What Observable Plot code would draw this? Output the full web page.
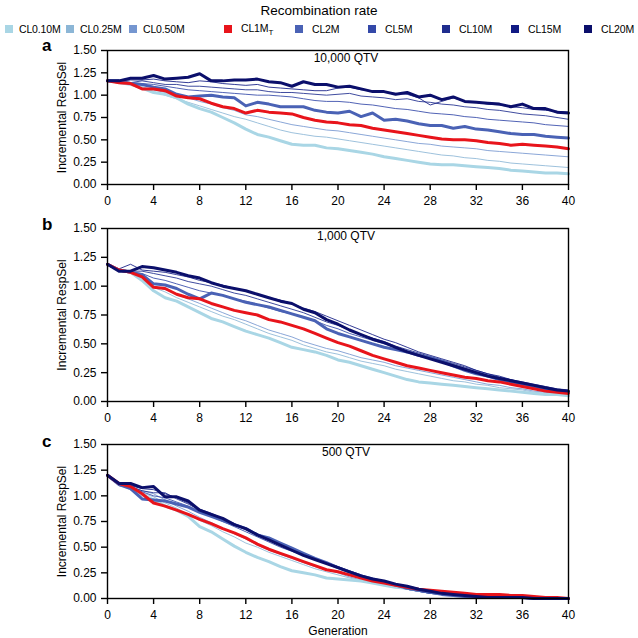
<!DOCTYPE html>
<html><head><meta charset="utf-8">
<script src="https://cdn.jsdelivr.net/npm/d3@7"></script>
<script src="https://cdn.jsdelivr.net/npm/@observablehq/plot@0.6"></script>
<style>
body{margin:0;background:#fff;font-family:"Liberation Sans",Arial,sans-serif;color:#000;}
#root{position:relative;width:638px;height:638px;overflow:hidden;}
.abs{position:absolute;}
.letter{font-weight:bold;font-size:17px;line-height:1;}
.leg{position:absolute;top:22px;height:14px;display:flex;align-items:center;font-size:10.5px;letter-spacing:-0.15px;white-space:nowrap;}
.sw{width:8px;height:8px;}
</style></head><body><div id="root"></div>
<script>
// ---------- data ----------
const generations = d3.range(0, 41);
const seriesNames = ["CL0.10M","CL0.25M","CL0.50M","CL1MT","CL2M","CL5M","CL10M","CL15M","CL20M"];
const seriesColors = ["#a9d6e5","#8cb6d6","#7596d0","#e8141b","#4a62b5","#3348a8","#1f2d8e","#111a84","#0b0f6b"];
const thickSeries = ["CL0.10M","CL2M","CL1MT","CL20M"];
const xTicks = [0,4,8,12,16,20,24,28,32,36,40];
const yTicks = [0,0.25,0.5,0.75,1,1.25,1.5];
const panelNotes = ["10,000 QTV","1,000 QTV","500 QTV"];

// Panel a: 10,000 QTV
const a_CL010 = [1.16,1.15,1.13,1.08,1.03,1.01,0.97,0.90,0.85,0.81,0.75,0.69,0.62,0.56,0.53,0.49,0.45,0.44,0.44,0.41,0.40,0.38,0.36,0.34,0.31,0.29,0.27,0.25,0.23,0.22,0.22,0.21,0.20,0.19,0.18,0.16,0.15,0.14,0.13,0.13,0.12];
const a_CL025 = [1.16,1.13,1.11,1.07,1.04,1.00,0.96,0.92,0.88,0.84,0.80,0.76,0.73,0.69,0.65,0.61,0.58,0.56,0.54,0.53,0.51,0.49,0.47,0.45,0.43,0.41,0.39,0.37,0.35,0.33,0.32,0.30,0.29,0.27,0.26,0.24,0.23,0.22,0.21,0.20,0.19];
const a_CL050 = [1.16,1.14,1.12,1.09,1.06,1.03,1.00,0.97,0.93,0.90,0.86,0.83,0.78,0.76,0.73,0.70,0.67,0.65,0.63,0.61,0.60,0.58,0.56,0.54,0.52,0.50,0.48,0.46,0.45,0.43,0.42,0.41,0.40,0.38,0.37,0.36,0.35,0.34,0.33,0.32,0.31];
const a_CL1MT = [1.16,1.14,1.13,1.07,1.07,1.05,0.99,0.97,0.96,0.91,0.87,0.85,0.80,0.83,0.81,0.80,0.79,0.75,0.72,0.70,0.69,0.67,0.66,0.63,0.61,0.59,0.57,0.55,0.53,0.51,0.50,0.50,0.49,0.47,0.46,0.44,0.45,0.44,0.43,0.42,0.40];
const a_CL2M  = [1.16,1.16,1.13,1.12,1.09,1.07,1.01,0.98,0.99,1.00,0.98,0.97,0.88,0.92,0.90,0.87,0.87,0.87,0.83,0.81,0.80,0.82,0.76,0.80,0.72,0.73,0.71,0.68,0.66,0.66,0.63,0.65,0.62,0.61,0.59,0.57,0.56,0.56,0.54,0.53,0.52];
const a_CL5M  = [1.16,1.15,1.14,1.13,1.12,1.10,1.08,1.06,1.05,1.04,1.03,1.02,1.01,1.00,1.00,0.99,0.98,0.96,0.94,0.93,0.93,0.92,0.90,0.89,0.87,0.85,0.84,0.82,0.80,0.79,0.78,0.76,0.75,0.73,0.72,0.71,0.70,0.69,0.67,0.66,0.65];
const a_CL10M = [1.16,1.15,1.14,1.16,1.14,1.12,1.12,1.10,1.10,1.09,1.08,1.07,1.06,1.06,1.04,1.03,1.03,1.02,1.01,1.00,1.01,1.02,0.99,0.98,0.97,0.95,0.96,0.93,0.92,0.90,0.89,0.87,0.86,0.84,0.83,0.81,0.79,0.78,0.77,0.75,0.73];
const a_CL15M = [1.16,1.16,1.17,1.17,1.18,1.16,1.15,1.14,1.16,1.15,1.13,1.12,1.11,1.12,1.09,1.08,1.07,1.06,1.05,1.05,1.08,1.09,1.06,1.05,1.03,1.02,1.01,0.97,0.89,0.93,0.97,0.93,0.92,0.90,0.89,0.87,0.86,0.84,0.83,0.82,0.81];
const a_CL20M = [1.16,1.16,1.19,1.19,1.22,1.18,1.19,1.20,1.24,1.16,1.16,1.17,1.17,1.18,1.15,1.14,1.10,1.15,1.12,1.12,1.09,1.10,1.07,1.04,1.04,1.01,1.03,0.98,1.00,0.95,0.98,0.93,0.92,0.91,0.90,0.87,0.90,0.85,0.85,0.81,0.80];

// Panel b: 1,000 QTV
const b_CL010 = [1.19,1.14,1.12,1.05,0.96,0.90,0.87,0.82,0.77,0.72,0.69,0.65,0.61,0.58,0.55,0.51,0.47,0.45,0.43,0.40,0.36,0.34,0.31,0.28,0.25,0.22,0.19,0.17,0.16,0.15,0.14,0.13,0.12,0.11,0.10,0.09,0.08,0.07,0.06,0.06,0.05];
const b_CL025 = [1.19,1.14,1.12,1.07,0.99,0.95,0.90,0.86,0.82,0.78,0.74,0.71,0.67,0.63,0.59,0.56,0.53,0.49,0.46,0.43,0.41,0.38,0.35,0.33,0.31,0.28,0.26,0.24,0.22,0.20,0.18,0.17,0.15,0.14,0.12,0.11,0.10,0.08,0.07,0.06,0.05];
const b_CL050 = [1.19,1.15,1.13,1.08,1.00,0.97,0.93,0.89,0.85,0.81,0.77,0.73,0.70,0.66,0.62,0.59,0.56,0.52,0.49,0.46,0.44,0.41,0.38,0.36,0.34,0.31,0.29,0.27,0.25,0.23,0.21,0.19,0.17,0.15,0.14,0.12,0.11,0.09,0.08,0.07,0.06];
const b_CL1MT = [1.19,1.14,1.12,1.08,0.99,0.98,0.93,0.90,0.89,0.85,0.82,0.79,0.77,0.75,0.71,0.69,0.66,0.63,0.59,0.55,0.51,0.48,0.44,0.40,0.37,0.34,0.31,0.29,0.27,0.25,0.23,0.21,0.20,0.18,0.17,0.15,0.13,0.11,0.09,0.08,0.07];
const b_CL2M  = [1.19,1.14,1.12,1.10,1.02,1.01,0.98,0.93,0.89,0.94,0.92,0.89,0.86,0.84,0.82,0.79,0.76,0.73,0.70,0.63,0.59,0.56,0.53,0.50,0.47,0.45,0.43,0.40,0.38,0.35,0.31,0.27,0.24,0.22,0.19,0.17,0.15,0.13,0.11,0.09,0.08];
const b_CL5M  = [1.19,1.13,1.12,1.11,1.07,1.05,1.02,0.99,0.96,0.94,0.92,0.89,0.87,0.84,0.81,0.78,0.76,0.73,0.70,0.66,0.63,0.59,0.56,0.53,0.50,0.47,0.44,0.41,0.38,0.35,0.32,0.29,0.26,0.23,0.21,0.18,0.16,0.14,0.12,0.10,0.08];
const b_CL10M = [1.19,1.14,1.13,1.13,1.11,1.09,1.07,1.04,1.02,1.00,0.97,0.94,0.92,0.89,0.86,0.83,0.80,0.77,0.73,0.69,0.66,0.62,0.58,0.55,0.52,0.48,0.45,0.42,0.39,0.36,0.33,0.30,0.27,0.24,0.21,0.19,0.16,0.14,0.12,0.10,0.09];
const b_CL15M = [1.19,1.15,1.19,1.14,1.13,1.12,1.10,1.08,1.05,1.03,1.01,0.98,0.96,0.93,0.90,0.88,0.85,0.81,0.78,0.74,0.70,0.66,0.62,0.58,0.54,0.51,0.47,0.43,0.40,0.37,0.34,0.31,0.27,0.24,0.22,0.19,0.17,0.15,0.13,0.11,0.10];
const b_CL20M = [1.19,1.13,1.13,1.17,1.16,1.14,1.12,1.09,1.07,1.03,1.00,0.98,0.96,0.93,0.90,0.87,0.85,0.80,0.77,0.71,0.67,0.62,0.58,0.54,0.51,0.47,0.43,0.40,0.37,0.34,0.31,0.28,0.25,0.22,0.20,0.18,0.16,0.14,0.12,0.10,0.09];

// Panel c: 500 QTV
const c_CL010 = [1.20,1.12,1.07,1.01,0.96,0.90,0.86,0.80,0.70,0.65,0.58,0.51,0.45,0.40,0.36,0.31,0.27,0.25,0.23,0.20,0.19,0.18,0.17,0.15,0.13,0.11,0.10,0.08,0.07,0.05,0.04,0.03,0.02,0.02,0.01,0.01,0.01,0.01,0.00,0.00,0.00];
const c_CL025 = [1.20,1.12,1.08,1.03,0.99,0.93,0.88,0.82,0.76,0.71,0.65,0.60,0.54,0.50,0.45,0.41,0.37,0.33,0.29,0.26,0.23,0.20,0.17,0.15,0.13,0.11,0.09,0.07,0.06,0.04,0.03,0.02,0.02,0.01,0.01,0.01,0.01,0.00,0.00,0.00,0.00];
const c_CL050 = [1.20,1.12,1.09,1.05,1.02,0.96,0.90,0.85,0.79,0.74,0.68,0.63,0.58,0.52,0.47,0.43,0.39,0.35,0.31,0.28,0.25,0.21,0.18,0.15,0.13,0.11,0.09,0.07,0.05,0.04,0.03,0.02,0.02,0.01,0.01,0.01,0.01,0.00,0.00,0.00,0.00];
const c_CL1MT = [1.20,1.12,1.09,1.02,0.93,0.90,0.86,0.82,0.77,0.73,0.68,0.64,0.59,0.53,0.48,0.44,0.40,0.36,0.32,0.28,0.26,0.23,0.20,0.17,0.15,0.13,0.11,0.09,0.08,0.07,0.06,0.05,0.04,0.04,0.04,0.03,0.03,0.02,0.01,0.01,0.00];
const c_CL2M  = [1.20,1.11,1.07,0.97,0.96,0.95,0.92,0.89,0.84,0.80,0.76,0.72,0.68,0.62,0.59,0.54,0.49,0.44,0.39,0.35,0.30,0.26,0.22,0.19,0.16,0.13,0.10,0.08,0.06,0.04,0.03,0.02,0.02,0.01,0.01,0.01,0.01,0.00,0.00,0.00,0.00];
const c_CL5M  = [1.20,1.10,1.08,1.04,1.00,0.98,0.94,0.90,0.85,0.80,0.75,0.70,0.65,0.60,0.55,0.50,0.46,0.42,0.38,0.34,0.30,0.26,0.22,0.18,0.15,0.12,0.09,0.07,0.05,0.04,0.03,0.02,0.01,0.01,0.01,0.01,0.01,0.00,0.00,0.00,0.00];
const c_CL10M = [1.20,1.10,1.09,1.05,1.03,1.03,0.97,0.92,0.86,0.81,0.77,0.72,0.67,0.62,0.57,0.52,0.47,0.43,0.39,0.35,0.31,0.26,0.22,0.18,0.15,0.12,0.09,0.07,0.05,0.04,0.03,0.02,0.01,0.01,0.01,0.01,0.01,0.00,0.00,0.00,0.00];
const c_CL15M = [1.20,1.11,1.10,1.07,1.06,1.02,0.98,0.93,0.87,0.83,0.78,0.73,0.68,0.63,0.58,0.53,0.48,0.43,0.39,0.35,0.31,0.27,0.23,0.19,0.16,0.13,0.10,0.08,0.06,0.04,0.03,0.02,0.02,0.01,0.01,0.01,0.01,0.00,0.00,0.00,0.00];
const c_CL20M = [1.20,1.12,1.12,1.08,1.09,0.99,0.99,0.95,0.86,0.82,0.78,0.72,0.68,0.62,0.57,0.52,0.47,0.42,0.38,0.34,0.30,0.26,0.22,0.19,0.17,0.14,0.12,0.09,0.07,0.05,0.04,0.03,0.02,0.01,0.01,0.01,0.01,0.00,0.00,0.00,0.00];

const panelA = [a_CL010,a_CL025,a_CL050,a_CL1MT,a_CL2M,a_CL5M,a_CL10M,a_CL15M,a_CL20M];
const panelB = [b_CL010,b_CL025,b_CL050,b_CL1MT,b_CL2M,b_CL5M,b_CL10M,b_CL15M,b_CL20M];
const panelC = [c_CL010,c_CL025,c_CL050,c_CL1MT,c_CL2M,c_CL5M,c_CL10M,c_CL15M,c_CL20M];

// ---------- drawing ----------
const root = document.getElementById("root");
const FONT = "'Liberation Sans', Arial, sans-serif";

function makePanel(series, note, cfg) {
  const rows = [];
  seriesNames.forEach((s, i) => series[i].forEach((v, g) => rows.push({series: s, gen: generations[g], value: v})));
  const colorOf = s => seriesColors[seriesNames.indexOf(s)];
  const thin = seriesNames.filter(s => !thickSeries.includes(s));
  const lineMarks = [
    ...thin.map(s => Plot.line(rows.filter(d => d.series === s), {x: "gen", y: "value", stroke: colorOf(s), strokeWidth: 1, strokeOpacity: 0.85})),
    ...thickSeries.map(s => Plot.line(rows.filter(d => d.series === s), {x: "gen", y: "value", stroke: colorOf(s), strokeWidth: 3}))
  ];
  return Plot.plot({
    width: 638, height: cfg.height,
    marginLeft: 107, marginRight: 70, marginTop: cfg.mt, marginBottom: cfg.mb,
    style: {fontFamily: FONT, fontSize: "12px", color: "#000", background: "transparent", overflow: "visible"},
    x: {domain: [0, 40]},
    y: {domain: [0, 1.5]},
    marks: [
      ...lineMarks,
      Plot.frame({stroke: "#000", strokeWidth: 1.4}),
      Plot.axisY({ticks: yTicks, tickFormat: d => d.toFixed(2), tickSize: 6, tickPadding: 5, strokeWidth: 1.4,
        label: "Incremental RespSel", labelAnchor: "center", labelOffset: 50, labelArrow: "none", fontSize: 12}),
      Plot.axisX({ticks: xTicks, tickFormat: d => String(d), tickSize: 6, tickPadding: 6, strokeWidth: 1.4,
        label: cfg.xlabel, labelAnchor: "center", labelOffset: 36, labelArrow: "none", fontSize: 12}),
      Plot.text([note], {text: d => d, frameAnchor: "top", dx: 8, dy: 8, lineAnchor: "middle", textAnchor: "middle", fontSize: 12, fill: "#000"})
    ]
  });
}

function place(el, top) {
  const d = document.createElement("div");
  d.className = "abs"; d.style.left = "0px"; d.style.top = top + "px";
  d.appendChild(el); root.appendChild(d);
}

place(makePanel(panelA, panelNotes[0], {height: 170, mt: 10, mb: 26, xlabel: null}), 40);
place(makePanel(panelB, panelNotes[1], {height: 219, mt: 18, mb: 28, xlabel: null}), 210);
place(makePanel(panelC, panelNotes[2], {height: 209, mt: 15, mb: 40, xlabel: "Generation"}), 429);

// panel letters
[["a", 37], ["b", 216], ["c", 433]].forEach(([t, y]) => {
  const d = document.createElement("div");
  d.className = "abs letter"; d.style.left = "42px"; d.style.top = y + "px"; d.textContent = t;
  root.appendChild(d);
});

// legend
const title = document.createElement("div");
title.className = "abs";
title.style.cssText = "left:0;width:638px;top:3px;text-align:center;font-size:13.5px;";
title.textContent = "Recombination rate";
root.appendChild(title);
const legendLeft = [5, 66, 129, 224, 295, 368, 442, 511, 584];
const legendGap = [6, 6, 6, 9, 9, 9, 9, 9, 9];
seriesNames.forEach((s, i) => {
  const item = document.createElement("div");
  item.className = "leg"; item.style.left = legendLeft[i] + "px";
  const sw = document.createElement("span"); sw.className = "sw"; sw.style.background = seriesColors[i];
  sw.style.marginRight = legendGap[i] + "px";
  const lab = document.createElement("span");
  if (s === "CL1MT") lab.innerHTML = "CL1M<sub style='font-size:8px;vertical-align:-3px'>T</sub>";
  else lab.textContent = s;
  item.appendChild(sw); item.appendChild(lab); root.appendChild(item);
});
</script></body></html>
